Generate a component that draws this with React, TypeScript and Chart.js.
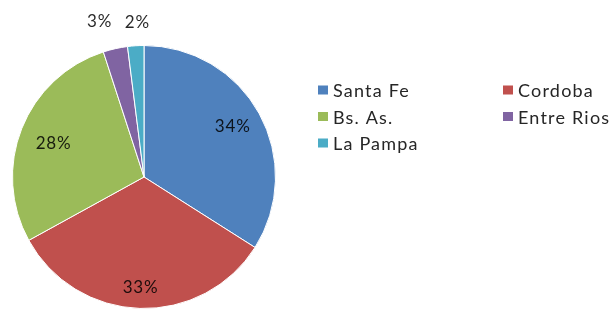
import React, { useEffect, useRef } from "react";
import { Chart, registerables } from "chart.js";

Chart.register(...registerables);

const categories = ["Santa Fe", "Cordoba", "Bs. As.", "Entre Rios", "La Pampa"];
const values = [34, 33, 28, 3, 2];
const colors = ["#4F81BD", "#C0504D", "#9BBB59", "#8064A2", "#4BACC6"];

const FONT = "Lato, 'Open Sans', sans-serif";

const labelPlugin = {
  id: "sliceLabels",
  afterDatasetsDraw(chart: any) {
    const ctx = chart.ctx;
    const meta = chart.getDatasetMeta(0);
    const ds = chart.data.datasets[0];
    const total = (ds.data as number[]).reduce((a, b) => a + b, 0);
    const factors = [0.77, 0.84, 0.74, 1.2, 1.17];
    const nudges = [
      [0, -2],
      [0, 0],
      [0, 2],
      [-10, -1],
      [3, -1],
    ];
    ctx.save();
    ctx.font = `17px ${FONT}`;
    (ctx as any).letterSpacing = "0.8px";
    ctx.fillStyle = "rgba(0,0,0,0.85)";
    ctx.textAlign = "center";
    ctx.textBaseline = "middle";
    meta.data.forEach((arc: any, i: number) => {
      const p = arc.getProps(["x", "y", "startAngle", "endAngle", "outerRadius"], true);
      const mid = (p.startAngle + p.endAngle) / 2;
      const d = p.outerRadius * factors[i];
      const x = p.x + Math.cos(mid) * d + nudges[i][0];
      const y = p.y + Math.sin(mid) * d + nudges[i][1];
      const pct = Math.round((ds.data[i] / total) * 100);
      ctx.fillText(pct + "%", x, y);
    });
    ctx.restore();
  },
};

const legendPlugin = {
  id: "customLegend",
  afterDraw(chart: any) {
    const ctx = chart.ctx;
    const colX = [318, 503];
    const rowY = [90, 116.5, 143];
    ctx.save();
    ctx.font = `18px ${FONT}`;
    (ctx as any).letterSpacing = "1.2px";
    ctx.textBaseline = "middle";
    ctx.textAlign = "left";
    chart.data.labels.forEach((lab: string, i: number) => {
      const col = i % 2;
      const row = Math.floor(i / 2);
      const x = colX[col];
      const y = rowY[row];
      ctx.fillStyle = chart.data.datasets[0].backgroundColor[i];
      ctx.fillRect(x, y - 4.5, 10, 9);
      ctx.fillStyle = "#262626";
      ctx.fillText(lab, x + 15, y + 1.5);
    });
    ctx.restore();
  },
};

export default function App() {
  const ref = useRef<HTMLCanvasElement>(null);
  useEffect(() => {
    document.body.style.margin = "0";
    const chart = new Chart(ref.current!, {
      type: "pie",
      data: {
        labels: categories,
        datasets: [
          {
            data: values,
            backgroundColor: colors,
            borderColor: "#ffffff",
            borderWidth: 1,
          },
        ],
      },
      options: {
        responsive: false,
        animation: false,
        layout: { padding: { left: 12, right: 338, top: 45, bottom: 6 } },
        plugins: {
          legend: { display: false },
          tooltip: { enabled: false },
        },
      },
      plugins: [labelPlugin, legendPlugin],
    });
    return () => chart.destroy();
  }, []);
  return (
    <div style={{ width: 614, height: 315, background: "#fff" }}>
      <canvas ref={ref} width={614} height={315} style={{ display: "block" }} />
    </div>
  );
}
